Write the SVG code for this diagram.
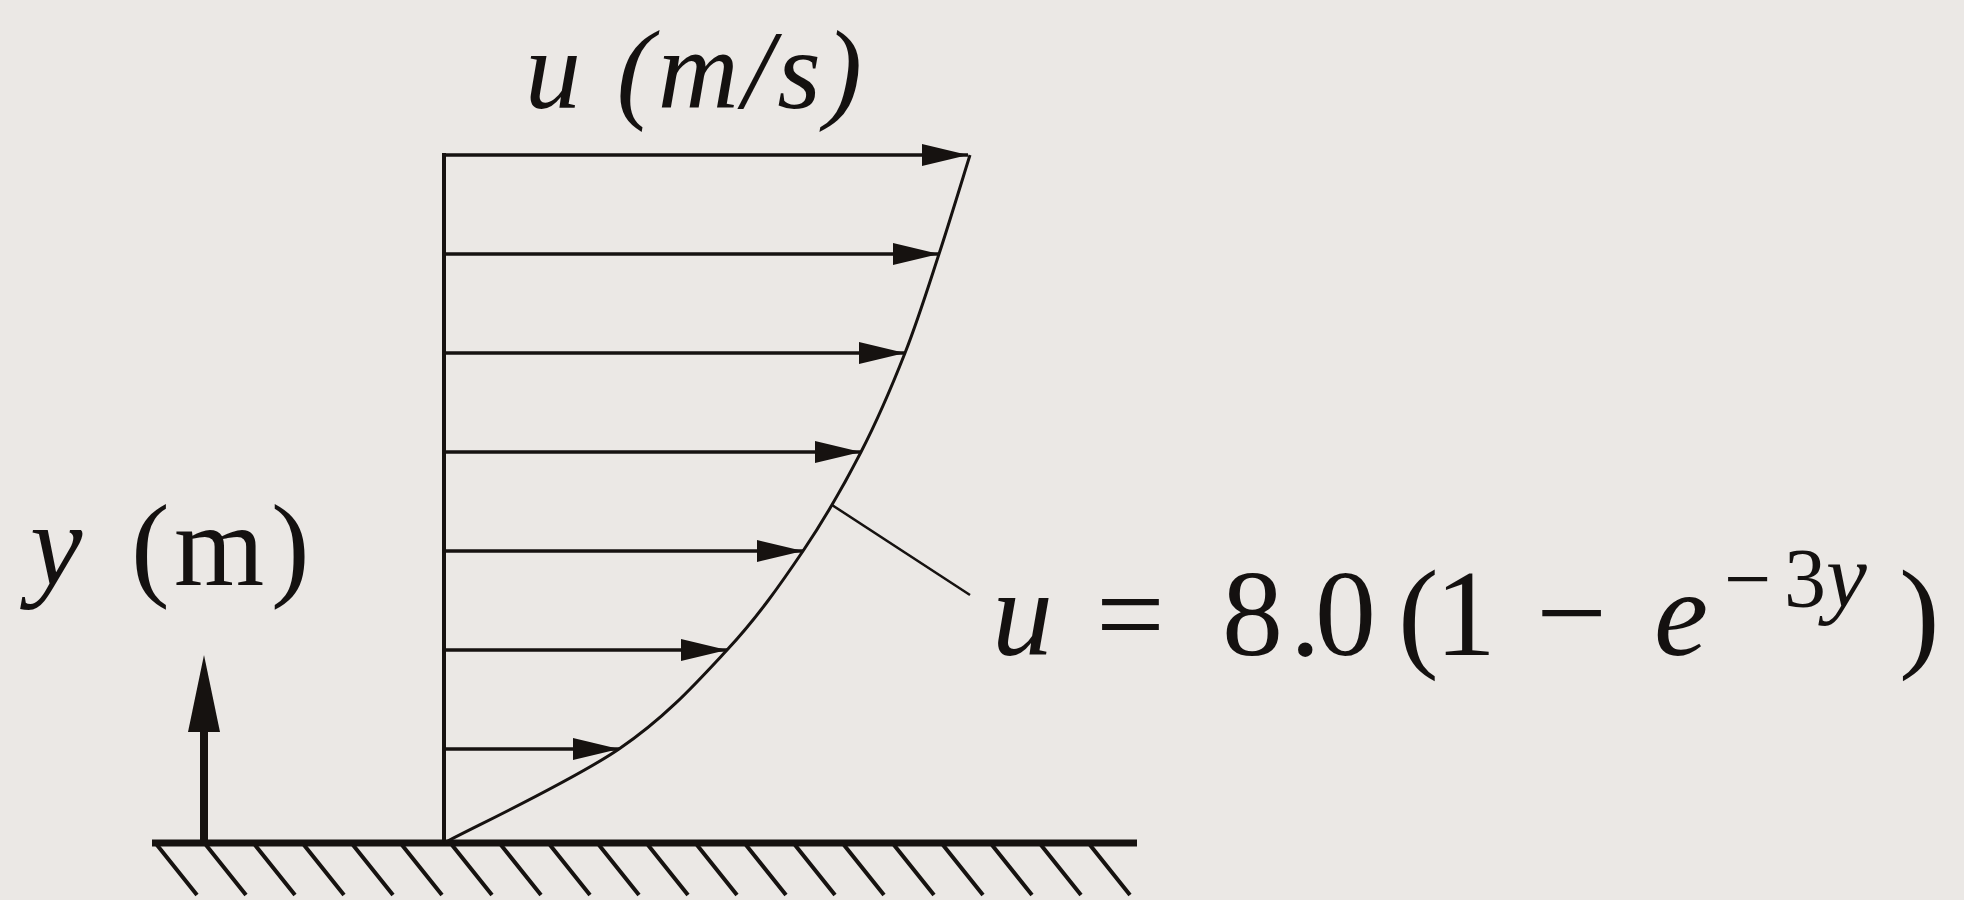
<svg xmlns="http://www.w3.org/2000/svg" width="1964" height="900" viewBox="0 0 1964 900">
<defs>
<style>
.bg{fill:#ebe8e5}
.ln{stroke:#161210;fill:none}
.serif{font-family:"Liberation Serif","Times New Roman",serif;fill:#141110}
.it{font-style:italic}
</style>
<marker id="ah" markerUnits="userSpaceOnUse" markerWidth="48" markerHeight="24" refX="46" refY="11" orient="auto">
<path d="M0,0 L46,11 L0,22 z" fill="#161210"/>
</marker>
</defs>
<rect class="bg" x="0" y="0" width="1964" height="900"/>

<g id="ground">
<line class="ln" x1="152" y1="843" x2="1137" y2="843" stroke-width="7"/>
<path class="ln" stroke-width="4" d="M157,845 l40,50 M206,845 l40,50 M255,845 l40,50 M304,845 l40,50 M353,845 l40,50 M402,845 l40,50 M452,845 l40,50 M501,845 l40,50 M550,845 l40,50 M599,845 l40,50 M648,845 l40,50 M697,845 l40,50 M746,845 l40,50 M795,845 l40,50 M844,845 l40,50 M894,845 l40,50 M943,845 l40,50 M992,845 l40,50 M1041,845 l40,50 M1090,845 l40,50"/>
</g>

<g id="wall">
<line class="ln" x1="444" y1="845" x2="444" y2="153" stroke-width="4"/>
</g>

<g id="profile">
<path class="ln" stroke-width="3" d="M444,843 C473.2,827.3 571.8,781.2 619,749 C666.2,716.8 696.3,683 727,650 C757.7,617 780.7,584 803,551 C825.3,518 844,485 861,452 C878,419 892,386 905,353 C918,320 928.2,287 939,254 C949.8,221 964.8,171.5 970,155"/>
</g>

<g id="connectors">
<line class="ln" stroke-width="3.5" x1="444" y1="155" x2="968" y2="155" marker-end="url(#ah)"/>
<line class="ln" stroke-width="3.5" x1="444" y1="254" x2="939" y2="254" marker-end="url(#ah)"/>
<line class="ln" stroke-width="3.5" x1="444" y1="353" x2="905" y2="353" marker-end="url(#ah)"/>
<line class="ln" stroke-width="3.5" x1="444" y1="452" x2="861" y2="452" marker-end="url(#ah)"/>
<line class="ln" stroke-width="3.5" x1="444" y1="551" x2="803" y2="551" marker-end="url(#ah)"/>
<line class="ln" stroke-width="3.5" x1="444" y1="650" x2="727" y2="650" marker-end="url(#ah)"/>
<line class="ln" stroke-width="3.5" x1="444" y1="749" x2="619" y2="749" marker-end="url(#ah)"/>
<line class="ln" stroke-width="2.5" x1="832" y1="505" x2="970" y2="595"/>
</g>

<g id="y-axis">
<line class="ln" x1="204" y1="843" x2="204" y2="720" stroke-width="8"/>
<polygon points="204,655 188,732 220,732" fill="#161210"/>
</g>

<g id="label-u">
<text class="serif it" x="525" y="108" font-size="112" textLength="337" lengthAdjust="spacing">u (m/s)</text>
</g>

<g id="label-y">
<text class="serif it" x="30" y="585" font-size="118">y</text>
<text class="serif" x="131 174 271" y="585" font-size="116">(m)</text>
</g>

<g id="equation">
<text class="serif it" x="992" y="655" font-size="122">u</text>
<text class="serif" x="1096" y="655" font-size="122">=</text>
<text class="serif" x="1222 1290 1315 1398 1435" y="655" font-size="122">8.0(1</text>
<text class="serif" x="1536" y="655" font-size="126">−</text>
<text class="serif it" x="1654" y="655" font-size="122">e</text>
<text class="serif" x="1724 1784" y="607" font-size="84">−3</text>
<text class="serif it" x="1826" y="607" font-size="92">y</text>
<text class="serif" x="1899" y="655" font-size="122">)</text>
</g>
</svg>
